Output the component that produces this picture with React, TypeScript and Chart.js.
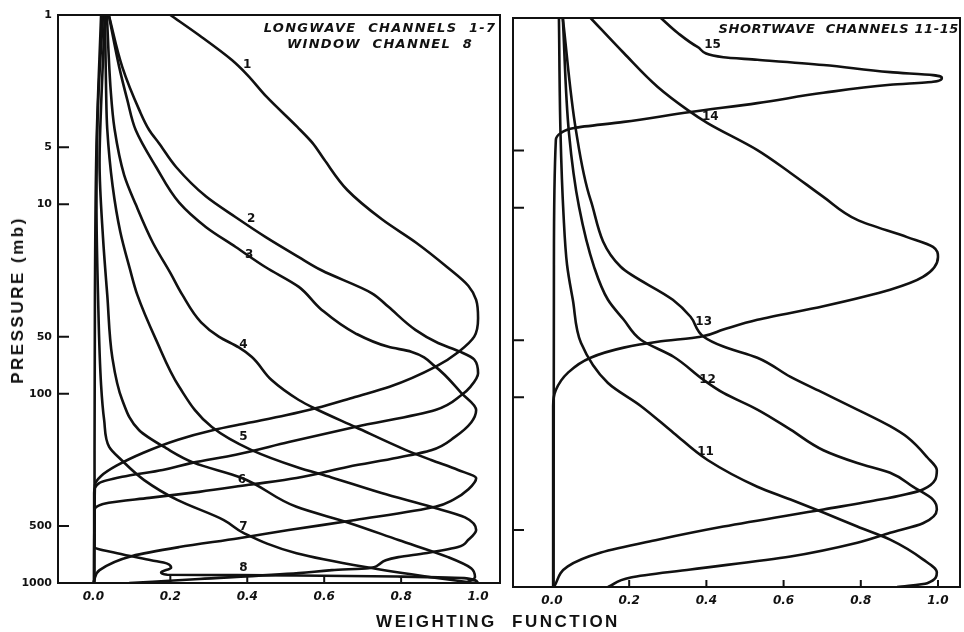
import React, { useEffect, useRef } from 'react';
import { Chart, registerables } from 'chart.js';

Chart.register(...registerables);

// ---------- axis ticks ----------
const pressureTicks = [1, 5, 10, 50, 100, 500, 1000];
const pressureTickMarks = [5, 10, 50, 100, 500];
const weightTicks = [0, 0.2, 0.4, 0.6, 0.8, 1.0];
const longwaveTickMarks = [0.2, 0.4, 0.6, 0.8];
const shortwaveTickMarks = [0.2, 0.4, 0.6, 0.8, 1.0];

// ---------- weighting functions: [weighting, pressure (mb)] ----------
type Pt = [number, number];

const ch1: Pt[] = [
  [0.2, 1], [0.275, 1.28], [0.36, 1.73], [0.4, 2.07], [0.45, 2.7], [0.53, 3.9], [0.57, 4.75],
  [0.6, 5.8], [0.66, 8.4], [0.75, 12], [0.84, 16], [0.92, 21.5], [0.975, 27], [0.995, 32],
  [1.0, 40], [0.99, 50], [0.95, 60], [0.89, 72], [0.77, 92], [0.68, 104], [0.58, 119],
  [0.5, 130], [0.4, 143], [0.31, 156], [0.22, 175], [0.13, 205], [0.06, 240], [0.02, 272],
  [0.004, 305], [0.002, 1000],
];
const ch2: Pt[] = [
  [0.04, 1], [0.075, 1.88], [0.12, 3.2], [0.145, 4.05], [0.17, 4.74], [0.215, 6.35], [0.293, 9.1],
  [0.37, 11.7], [0.448, 14.9], [0.534, 19], [0.593, 22.3], [0.723, 29.4], [0.767, 34.8],
  [0.837, 46], [0.896, 54], [0.953, 60], [0.99, 66], [1.0, 78], [0.98, 92], [0.956, 102],
  [0.889, 122], [0.68, 150], [0.508, 180], [0.37, 210], [0.256, 232], [0.18, 253], [0.075, 275],
  [0.015, 297], [0.002, 335], [0.002, 1000],
];
const ch3: Pt[] = [
  [0.04, 1], [0.067, 1.88], [0.088, 2.8], [0.11, 4.05], [0.163, 6.35], [0.223, 9.8], [0.293, 13.2],
  [0.37, 16.8], [0.448, 21.5], [0.534, 27.3], [0.593, 36], [0.681, 48], [0.767, 56.6],
  [0.826, 60], [0.889, 72], [0.956, 99], [0.995, 122], [0.982, 142], [0.94, 169], [0.878, 199],
  [0.79, 218], [0.663, 243], [0.528, 279], [0.404, 303], [0.275, 330], [0.145, 355], [0.04, 377],
  [0.003, 410], [0.002, 1000],
];
const ch4: Pt[] = [
  [0.035, 1], [0.045, 2.5], [0.055, 4], [0.08, 7], [0.11, 10], [0.155, 16], [0.2, 23], [0.231, 30],
  [0.28, 42], [0.326, 50], [0.378, 57], [0.412, 64], [0.464, 85], [0.534, 108], [0.573, 119],
  [0.681, 150], [0.811, 198], [0.878, 224], [0.948, 253], [0.995, 280], [0.975, 320],
  [0.935, 364], [0.889, 396], [0.681, 465], [0.508, 525], [0.378, 580], [0.223, 646],
  [0.101, 720], [0.016, 855], [0.002, 968], [0.0, 1000],
];
const ch5: Pt[] = [
  [0.03, 1], [0.033, 2.5], [0.036, 4], [0.05, 8], [0.07, 14], [0.095, 22], [0.114, 30],
  [0.163, 52], [0.223, 92], [0.308, 150], [0.41, 198], [0.528, 244], [0.619, 277], [0.749, 335],
  [0.878, 396], [0.966, 450], [0.995, 525], [0.974, 593], [0.948, 646], [0.863, 696],
  [0.793, 730], [0.76, 758], [0.74, 805], [0.715, 835], [0.62, 855], [0.534, 887], [0.275, 953],
  [0.093, 1000],
];
const ch6: Pt[] = [
  [0.03, 1], [0.02, 3], [0.016, 6], [0.025, 15], [0.036, 30], [0.049, 64], [0.075, 108],
  [0.119, 156], [0.189, 194], [0.262, 232], [0.383, 277], [0.528, 396], [0.663, 480],
  [0.793, 593], [0.922, 730], [0.982, 835], [0.992, 932], [0.966, 1000],
];
const ch7: Pt[] = [
  [0.025, 1], [0.012, 3], [0.008, 10], [0.012, 30], [0.02, 90], [0.028, 138], [0.041, 191],
  [0.073, 224], [0.132, 286], [0.218, 364], [0.339, 465], [0.391, 545], [0.528, 696],
  [0.707, 823], [0.878, 932], [0.99, 1000],
];
const ch8: Pt[] = [
  [0.02, 1], [0.008, 5], [0.004, 30], [0.003, 200], [0.003, 646], [0.062, 696], [0.15, 758],
  [0.192, 790], [0.202, 830], [0.176, 880], [0.192, 905], [0.528, 912], [0.8, 925],
  [0.97, 945], [1.0, 1000],
];

const ch11: Pt[] = [
  [0.018, 1], [0.022, 4], [0.03, 11], [0.039, 20], [0.054, 30.6], [0.075, 51.5], [0.145, 84],
  [0.23, 111], [0.315, 154], [0.403, 214], [0.532, 296], [0.618, 346], [0.703, 405],
  [0.791, 480], [0.876, 563], [0.961, 715], [0.997, 838], [0.972, 955], [0.894, 1000],
];
const ch12: Pt[] = [
  [0.028, 1], [0.044, 4.04], [0.07, 9.9], [0.109, 20.5], [0.145, 30.6], [0.186, 39], [0.23, 49.7],
  [0.315, 61.1], [0.393, 81], [0.444, 94.8], [0.532, 116], [0.618, 148], [0.703, 190],
  [0.791, 222], [0.876, 250], [0.935, 296], [0.987, 346], [0.997, 390], [0.961, 461],
  [0.876, 518], [0.791, 584], [0.618, 690], [0.359, 808], [0.204, 890], [0.145, 1000],
];
const ch13: Pt[] = [
  [0.028, 1], [0.062, 3.9], [0.1, 9.1], [0.178, 20.5], [0.313, 30.6], [0.359, 37.6], [0.393, 47.9],
  [0.444, 54], [0.532, 61.8], [0.618, 78], [0.703, 94.8], [0.791, 116], [0.876, 142],
  [0.92, 162], [0.972, 207], [0.997, 242], [0.961, 306], [0.85, 346], [0.703, 390],
  [0.444, 480], [0.274, 563], [0.127, 658], [0.041, 778], [0.005, 1000],
];
const ch14: Pt[] = [
  [0.1, 1], [0.186, 1.53], [0.274, 2.31], [0.351, 3.05], [0.403, 3.58], [0.532, 4.97],
  [0.618, 6.56], [0.703, 8.77], [0.791, 11.6], [0.92, 14.3], [0.987, 16.1], [1.0, 18.2],
  [0.961, 23.2], [0.876, 27.1], [0.703, 33.1], [0.532, 39], [0.444, 43.9], [0.385, 47.9],
  [0.274, 50.9], [0.186, 54.7], [0.1, 61.8], [0.041, 74.3], [0.01, 91.5], [0.003, 111],
  [0.003, 1000],
];
const ch15: Pt[] = [
  [0.282, 1], [0.326, 1.2], [0.377, 1.42], [0.444, 1.61], [0.532, 1.66], [0.703, 1.77],
  [0.876, 1.93], [0.987, 2.0], [1.01, 2.07], [0.987, 2.17], [0.876, 2.25], [0.703, 2.48],
  [0.532, 2.81], [0.359, 3.13], [0.186, 3.53], [0.057, 3.8], [0.023, 4.04], [0.01, 4.4],
  [0.005, 20], [0.004, 1000],
];

// ---------- curve labels ----------
const longwaveCurves = [ch1, ch2, ch3, ch4, ch5, ch6, ch7, ch8];
const longwaveNames = ['1', '2', '3', '4', '5', '6', '7', '8'];
const longwaveLabelW = [0.4, 0.41, 0.405, 0.39, 0.39, 0.386, 0.39, 0.39];
const longwaveLabelP = [1.84, 12.0, 18.5, 55, 170, 286, 506, 830];
const longwaveTitle = ['LONGWAVE  CHANNELS  1-7', 'WINDOW  CHANNEL  8'];

const shortwaveCurves = [ch11, ch12, ch13, ch14, ch15];
const shortwaveNames = ['11', '12', '13', '14', '15'];
const shortwaveLabelW = [0.398, 0.403, 0.393, 0.41, 0.416];
const shortwaveLabelP = [194, 81, 40, 3.33, 1.39];
const shortwaveTitle = ['SHORTWAVE  CHANNELS 11-15'];

type PanelCfg = {
  curves: Pt[][];
  names: string[];
  labelW: number[];
  labelP: number[];
  title: string[];
  titleAlign: 'center' | 'right';
  titleSpacing: string;
  xmin: number;
  xmax: number;
  xTickMarks: number[];
  showY: boolean;
  yWidth: number;
  xHeight: number;
  padTop: number;
  padRight: number;
  canvasLeft: number;
  canvasWidth: number;
};

const BLACK = '#111';

function makePlugin(cfg: PanelCfg) {
  return {
    id: 'panelDecor',
    afterDatasetsDraw(chart: any) {
      const { ctx, chartArea: a, scales } = chart;
      const x = scales.x;
      const y = scales.y;
      ctx.save();
      ctx.strokeStyle = BLACK;
      ctx.lineWidth = 2;
      ctx.strokeRect(a.left, a.top, a.right - a.left, a.bottom - a.top);
      ctx.beginPath();
      pressureTickMarks.forEach((v) => {
        const py = y.getPixelForValue(v);
        ctx.moveTo(a.left, py);
        ctx.lineTo(a.left + 11, py);
      });
      cfg.xTickMarks.forEach((v) => {
        const px = x.getPixelForValue(v);
        ctx.moveTo(px, a.bottom);
        ctx.lineTo(px, a.bottom - 7);
      });
      ctx.stroke();

      ctx.fillStyle = BLACK;
      ctx.textBaseline = 'middle';
      ctx.textAlign = 'center';
      ctx.font = 'bold 12px "DejaVu Sans", sans-serif';
      cfg.names.forEach((t, i) => {
        ctx.fillText(t, x.getPixelForValue(cfg.labelW[i]), y.getPixelForValue(cfg.labelP[i]));
      });

      ctx.font = 'italic bold 13px "DejaVu Sans", sans-serif';
      (ctx as any).letterSpacing = cfg.titleSpacing;
      cfg.title.forEach((t, i) => {
        if (cfg.titleAlign === 'center') {
          ctx.textAlign = 'center';
          ctx.fillText(t, a.right - 120, a.top + 14 + i * 16);
        } else {
          ctx.textAlign = 'right';
          ctx.fillText(t, a.right - 1, a.top + 12 + i * 16);
        }
      });
      ctx.restore();
    },
  };
}

function Panel({ cfg }: { cfg: PanelCfg }) {
  const ref = useRef<HTMLCanvasElement>(null);
  useEffect(() => {
    const canvas = ref.current;
    if (!canvas) return;
    const chart = new Chart(canvas, {
      type: 'line',
      data: {
        datasets: cfg.curves.map((c) => ({
          data: c.map(([w, p]) => ({ x: w, y: p })),
          borderColor: BLACK,
          borderWidth: 2.6,
          pointRadius: 0,
          fill: false,
          cubicInterpolationMode: 'monotone' as const,
        })),
      },
      options: {
        responsive: false,
        animation: false,
        indexAxis: 'y',
        events: [],
        layout: { padding: { top: cfg.padTop, right: cfg.padRight, left: 0, bottom: 0 } },
        plugins: { legend: { display: false }, tooltip: { enabled: false }, title: { display: false } },
        scales: {
          x: {
            type: 'linear',
            min: cfg.xmin,
            max: cfg.xmax,
            afterBuildTicks: (s: any) => {
              s.ticks = weightTicks.map((v) => ({ value: v }));
            },
            afterFit: (s: any) => {
              s.height = cfg.xHeight;
            },
            grid: { display: false, drawTicks: false },
            border: { display: false },
            ticks: {
              autoSkip: false,
              maxRotation: 0,
              padding: 7,
              color: BLACK,
              font: { family: '"DejaVu Sans", sans-serif', size: 12, weight: 'bold', style: 'italic' },
              callback: (v: any) => Number(v).toFixed(1),
            },
          },
          y: {
            type: 'logarithmic',
            min: 1,
            max: 1000,
            reverse: true,
            afterBuildTicks: (s: any) => {
              s.ticks = pressureTicks.map((v) => ({ value: v }));
            },
            afterFit: (s: any) => {
              s.width = cfg.yWidth;
            },
            grid: { display: false, drawTicks: false },
            border: { display: false },
            ticks: {
              display: cfg.showY,
              autoSkip: false,
              padding: 6,
              color: BLACK,
              font: { family: '"DejaVu Sans", sans-serif', size: 11, weight: 'bold' },
              callback: (v: any) => String(v),
            },
          },
        },
      } as any,
      plugins: [makePlugin(cfg)],
    });
    return () => chart.destroy();
  }, [cfg]);
  return (
    <canvas
      ref={ref}
      width={cfg.canvasWidth}
      height={632}
      style={{ position: 'absolute', left: cfg.canvasLeft, top: 0, width: cfg.canvasWidth, height: 632 }}
    />
  );
}

const leftCfg: PanelCfg = {
  curves: longwaveCurves,
  names: longwaveNames,
  labelW: longwaveLabelW,
  labelP: longwaveLabelP,
  title: longwaveTitle,
  titleAlign: 'center',
  titleSpacing: '1.3px',
  xmin: -0.092,
  xmax: 1.057,
  xTickMarks: longwaveTickMarks,
  showY: true,
  yWidth: 58,
  xHeight: 49,
  padTop: 15,
  padRight: 5,
  canvasLeft: 0,
  canvasWidth: 505,
};

const rightCfg: PanelCfg = {
  curves: shortwaveCurves,
  names: shortwaveNames,
  labelW: shortwaveLabelW,
  labelP: shortwaveLabelP,
  title: shortwaveTitle,
  titleAlign: 'right',
  titleSpacing: '0.6px',
  xmin: -0.101,
  xmax: 1.057,
  xTickMarks: shortwaveTickMarks,
  showY: false,
  yWidth: 8,
  xHeight: 45,
  padTop: 18,
  padRight: 4,
  canvasLeft: 505,
  canvasWidth: 459,
};

const titleFont: React.CSSProperties = {
  position: 'absolute',
  fontFamily: '"Liberation Sans", Arial, sans-serif',
  fontWeight: 'bold',
  fontSize: 17,
  letterSpacing: '2.5px',
  color: BLACK,
  whiteSpace: 'nowrap',
  lineHeight: '20px',
};

export default function App() {
  return (
    <div style={{ position: 'absolute', left: 0, top: 0, width: 964, height: 632, background: '#fff', overflow: 'hidden' }}>
      <Panel cfg={leftCfg} />
      <Panel cfg={rightCfg} />
      <div
        style={{
          ...titleFont,
          left: 18,
          top: 300,
          transform: 'translate(-50%, -50%) rotate(-90deg)',
        }}
      >
        PRESSURE (mb)
      </div>
      <div
        style={{
          ...titleFont,
          left: 498,
          top: 622,
          wordSpacing: '8px',
          transform: 'translate(-50%, -50%)',
        }}
      >
        WEIGHTING FUNCTION
      </div>
    </div>
  );
}
